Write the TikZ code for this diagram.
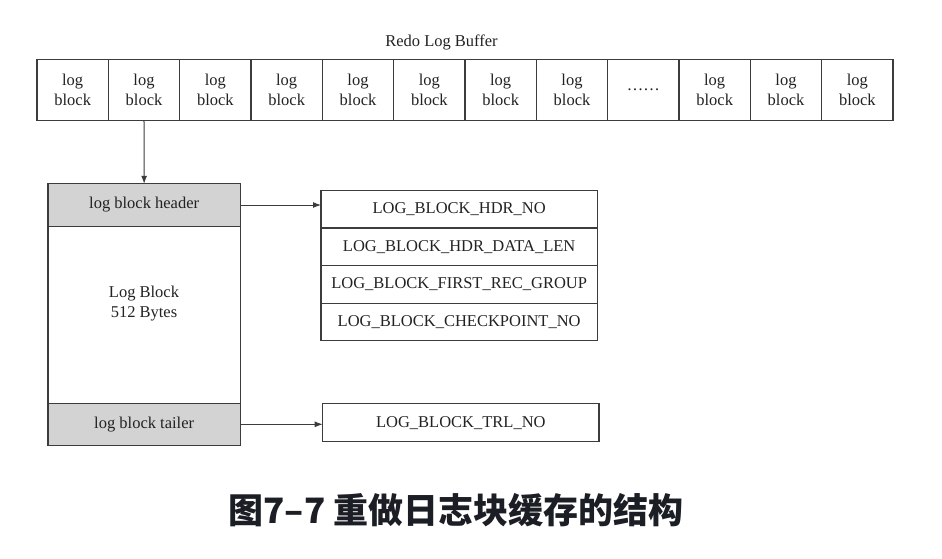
\documentclass[tikz,border=0pt]{standalone}
\usepackage{fontspec}
\setmainfont{Liberation Serif}
\newfontfamily\cjk{Noto Sans CJK SC}
\usetikzlibrary{arrows.meta}
\definecolor{linegray}{HTML}{3C3C3C}
\definecolor{bandgray}{HTML}{D3D3D3}
\definecolor{txtgray}{HTML}{222222}
\definecolor{titleink}{HTML}{1B1E25}
\begin{document}
\begin{tikzpicture}[x=1pt, y=-1pt, font=\fontsize{16.5}{20}\selectfont, text=txtgray,
    every node/.style={outer sep=0pt, inner sep=0pt, anchor=west, align=center},
    cell/.style={draw=linegray, line width=1.1pt, fill=white, minimum width=71.33pt, minimum height=61pt},
    band/.style={draw=linegray, line width=1.1pt, fill=bandgray, minimum width=192.3pt, minimum height=42.5pt},
    blockbody/.style={draw=linegray, line width=1.1pt, fill=white, minimum width=192.3pt, minimum height=177.3pt},
    field/.style={draw=linegray, line width=1.1pt, fill=white, minimum width=276.3pt, minimum height=37.6pt},
    link/.style={draw=linegray, line width=1pt, -{Latex[length=8pt, width=6pt]}},
    line join=miter]
    \useasboundingbox (0, 0) rectangle (942, 558);
    \node[anchor=center] (buf) at (441.5, 42) {Redo Log Buffer};
    \node[cell] (c1) at (37, 90) {log\\block};
    \node[cell] (c2) at (108.33, 90) {log\\block};
    \node[cell] (c3) at (179.67, 90) {log\\block};
    \node[cell] (c4) at (251, 90) {log\\block};
    \node[cell] (c5) at (322.33, 90) {log\\block};
    \node[cell] (c6) at (393.67, 90) {log\\block};
    \node[cell] (c7) at (465, 90) {log\\block};
    \node[cell] (c8) at (536.33, 90) {log\\block};
    \node[cell] (c9) at (607.67, 90) {……};
    \node[cell] (c10) at (679, 90) {log\\block};
    \node[cell] (c11) at (750.33, 90) {log\\block};
    \node[cell] (c12) at (821.67, 90) {log\\block};
    % log block
    \node[blockbody] (blk) at (48, 314.7) {};
    \node[anchor=center] (blktxt) at (144, 304) {Log Block\\512 Bytes};
    \node[band] (hdr) at (48, 205) {log block header};
    \node[band] (tlr) at (48, 424.3) {log block tailer};
    % fields
    \node[field] (f1) at (321, 209.2) {LOG\_BLOCK\_HDR\_NO};
    \node[field] (f2) at (321, 246.8) {LOG\_BLOCK\_HDR\_DATA\_LEN};
    \node[field] (f3) at (321, 284.4) {LOG\_BLOCK\_FIRST\_REC\_GROUP};
    \node[field] (f4) at (321, 322) {LOG\_BLOCK\_CHECKPOINT\_NO};
    \node[field] (trl) at (322.7, 422.7) {LOG\_BLOCK\_TRL\_NO};
    \draw[link] (c2.south) -- (hdr.north);
    \draw[link] (hdr.east) -- (hdr.east -| f1.west);
    \draw[link] (tlr.east) -- (tlr.east -| trl.west);
    \node[anchor=center, text=titleink, font=\cjk\bfseries\fontsize{35}{40}\selectfont] (title) at (456, 510) {图7–7 重做日志块缓存的结构};
\end{tikzpicture}
\end{document}
